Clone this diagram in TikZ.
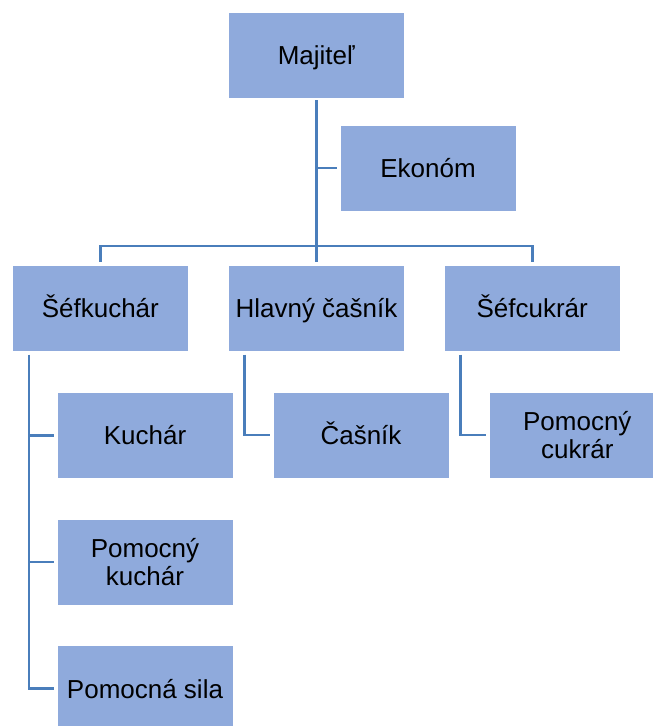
\documentclass[tikz,border=0pt]{standalone}
\usepackage{fontspec}
\setmainfont{Liberation Sans}
\definecolor{boxblue}{HTML}{8FAADC}
\definecolor{lineblue}{HTML}{4A7EBB}
\tikzset{
  orgbox/.style={rectangle, fill=boxblue, draw=white, line width=0.8pt,
    minimum width=176pt, minimum height=86pt, inner sep=0pt, align=center,
    font=\fontsize{26}{27.5}\selectfont},
  oneline/.style={text height=18.6pt, text depth=0pt},
  conn/.style={draw=lineblue, line width=2.6pt}
}
\begin{document}
\begin{tikzpicture}[x=1pt, y=-1pt]
\useasboundingbox (0,0) rectangle (653,726);
\node[orgbox, oneline] (maj) at (316.3,55) {Majiteľ};
\node[orgbox, oneline] (eko) at (428,168) {Ekonóm};
\node[orgbox, oneline] (sef) at (100.3,308.3) {Šéfkuchár};
\node[orgbox, oneline] (hla) at (316.5,308.3) {Hlavný čašník};
\node[orgbox, oneline] (cuk) at (532.2,308.3) {Šéfcukrár};
\node[orgbox, oneline] (kuc) at (145,435.3) {Kuchár};
\node[orgbox] (pku) at (145,562) {Pomocný\\kuchár};
\node[orgbox, oneline] (psi) at (145,688.7) {Pomocná sila};
\node[orgbox, oneline] (cas) at (361,435) {Čašník};
\node[orgbox] (pcu) at (577.3,435) {Pomocný\\cukrár};
% helper coordinates
\coordinate (bus) at (316.3,246);
\coordinate (skx) at (29,0);
\coordinate (hx) at (244.5,0);
\coordinate (cx) at (460.7,0);
\path ([yshift=-2pt]maj.south) coordinate (majb);
\path ([yshift=3pt]hla.north) coordinate (hlat);
\path ([yshift=3pt]sef.north) coordinate (seft);
\path ([yshift=3pt]cuk.north) coordinate (cukt);
\path ([yshift=-3pt]sef.south) coordinate (sefb);
\path ([yshift=-3pt]hla.south) coordinate (hlab);
\path ([yshift=-3pt]cuk.south) coordinate (cukb);
\path ([xshift=-3pt]eko.west) coordinate (ekow);
\path ([xshift=-3pt]kuc.west) coordinate (kucw);
\path ([xshift=-3pt]pku.west) coordinate (pkuw);
\path ([xshift=-3pt]psi.west) coordinate (psiw);
\path ([xshift=-3pt]cas.west) coordinate (casw);
\path ([xshift=-3pt]pcu.west) coordinate (pcuw);
% connectors
\draw[conn] (majb) -- (majb |- hlat);
\draw[conn] (majb |- ekow) -- (ekow);
\draw[conn] (seft) -- (seft |- bus) -- (cukt |- bus) -- (cukt);
\draw[conn] (sefb -| skx) |- (psiw);
\draw[conn] (skx |- kucw) -- (kucw);
\draw[conn] (skx |- pkuw) -- (pkuw);
\draw[conn] (hlab -| hx) |- (casw);
\draw[conn] (cukb -| cx) |- (pcuw);
\end{tikzpicture}
\end{document}
